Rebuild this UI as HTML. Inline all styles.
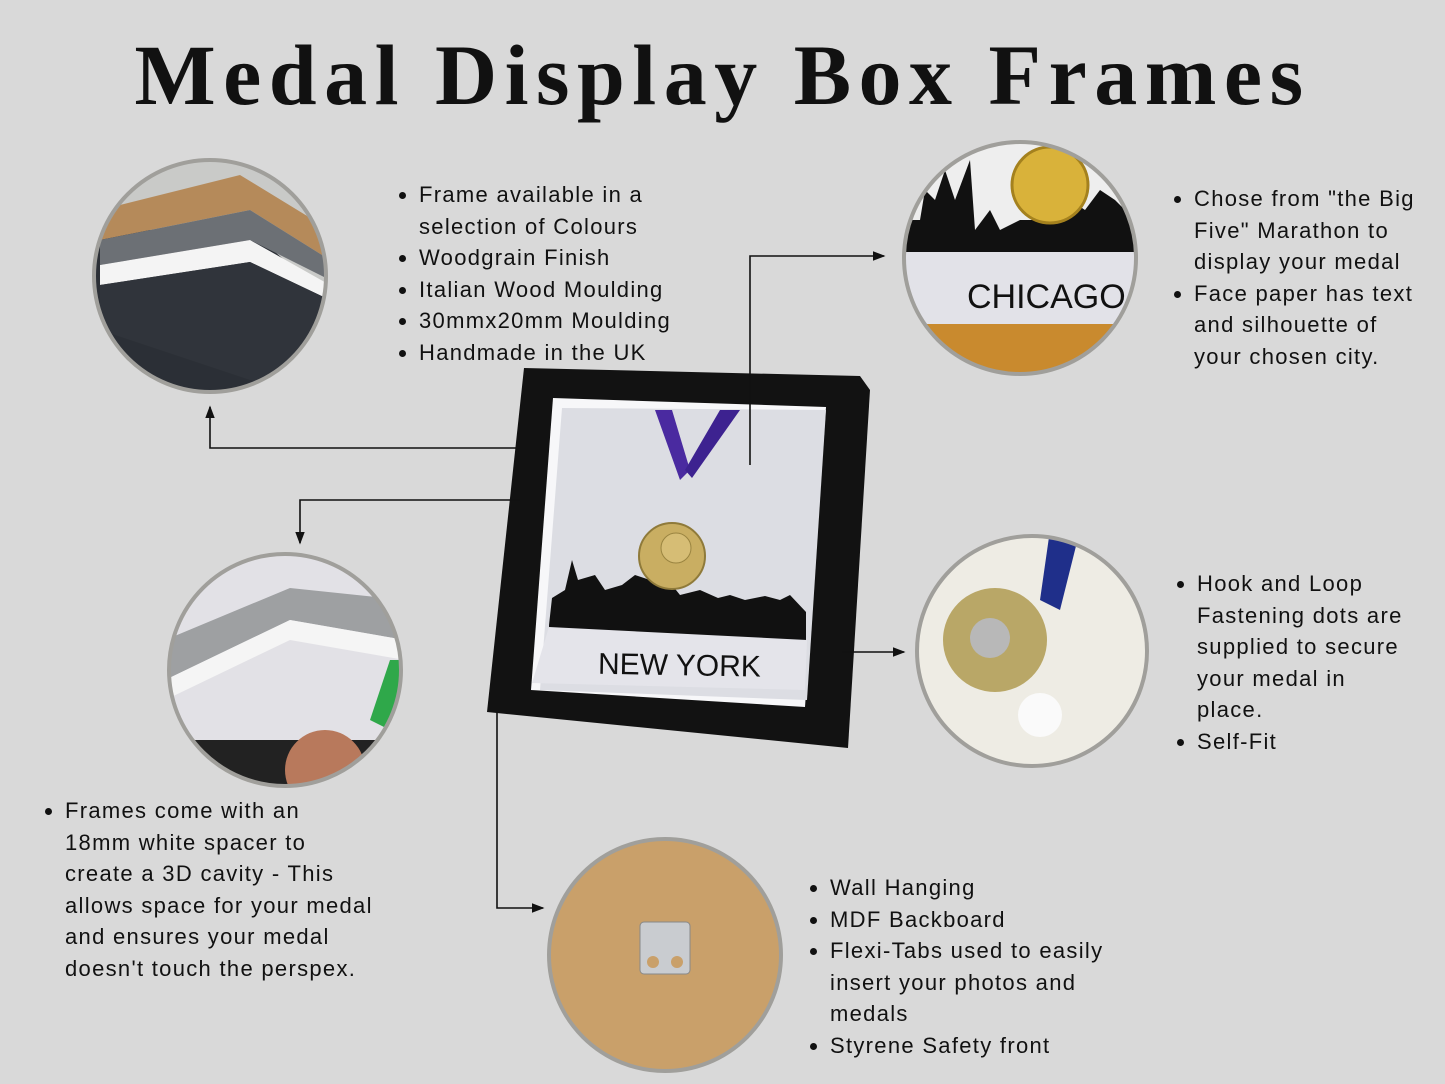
<!DOCTYPE html>
<html><head><meta charset="utf-8"><style>
body{margin:0;width:1445px;height:1084px;background:#d9d9d9;overflow:hidden;position:relative;font-family:"Liberation Sans",sans-serif;color:#111}
h1{position:absolute;top:25px;left:0;width:1445px;text-align:center;margin:0;font-family:"Liberation Serif",serif;font-weight:bold;font-size:86px;letter-spacing:7.5px;white-space:nowrap}
ul{position:absolute;margin:0;padding:0 0 0 19px;font-size:22px;line-height:31.6px;letter-spacing:1.3px;white-space:nowrap}
svg{position:absolute;left:0;top:0}
</style></head><body>
<h1>Medal Display Box Frames</h1>
<svg width="1445" height="1084">
<defs>
<clipPath id="c1"><circle cx="210" cy="276" r="115"/></clipPath>
<clipPath id="c2"><circle cx="1020" cy="258" r="115"/></clipPath>
<clipPath id="c3"><circle cx="1032" cy="651" r="114"/></clipPath>
<clipPath id="c4"><circle cx="285" cy="670" r="115"/></clipPath>
<marker id="a" markerWidth="8" markerHeight="8" refX="7" refY="4" orient="auto"><path d="M0,1 L8,4 L0,7z" fill="#111"/></marker>
</defs>
<g clip-path="url(#c1)"><rect x="90" y="160" width="240" height="240" fill="#c9cac8"/>
<polygon points="90,230 250,230 330,300 330,400 90,400" fill="#2b2f36"/>
<polygon points="100,210 240,175 330,230 330,260 250,210 100,240" fill="#b58a5a"/>
<polygon points="100,240 250,210 330,260 330,280 250,240 100,265" fill="#6c7075"/>
<polygon points="100,265 250,240 330,285 330,300 250,262 100,285" fill="#f4f4f4"/>
<polygon points="100,285 250,262 330,300 330,400 250,380 100,330" fill="#30343b"/></g>
<circle cx="210" cy="276" r="116" fill="none" stroke="#a09f9b" stroke-width="4"/>
<g clip-path="url(#c2)"><rect x="900" y="140" width="240" height="240" fill="#eeeeee"/>
<path d="M900,270 L900,220 L920,220 L925,190 L935,200 L945,170 L955,200 L970,160 L975,230 L990,210 L1000,230 L1020,220 L1050,220 L1070,200 L1085,210 L1100,190 L1115,200 L1130,215 L1140,220 L1140,270z" fill="#111"/>
<rect x="900" y="252" width="240" height="72" fill="#e2e2e8"/>
<rect x="900" y="324" width="240" height="60" fill="#c98a2e"/>
<circle cx="1050" cy="185" r="38" fill="#d9b23a" stroke="#a4811e" stroke-width="3"/>
<text x="967" y="308" font-size="34" font-family="Liberation Sans" fill="#111">CHICAGO</text></g>
<circle cx="1020" cy="258" r="116" fill="none" stroke="#a09f9b" stroke-width="4"/>
<g clip-path="url(#c3)"><rect x="910" y="530" width="240" height="240" fill="#eeece4"/>
<polygon points="1040,600 1050,530 1080,530 1060,610" fill="#1f2f8a"/>
<circle cx="995" cy="640" r="52" fill="#b9a767"/>
<circle cx="990" cy="638" r="20" fill="#b8b8b8"/>
<circle cx="1040" cy="715" r="22" fill="#fafafa"/></g>
<circle cx="1032" cy="651" r="115" fill="none" stroke="#a09f9b" stroke-width="4"/>
<g clip-path="url(#c4)"><rect x="165" y="550" width="240" height="240" fill="#e2e1e6"/>
<polygon points="165,640 290,588 405,600 405,640 290,620 165,680" fill="#9ea0a2"/>
<polygon points="165,680 290,620 405,640 405,660 290,640 165,700" fill="#f5f5f5"/>
<rect x="165" y="740" width="240" height="50" fill="#222"/>
<circle cx="325" cy="770" r="40" fill="#b8795c"/>
<polygon points="370,720 390,660 405,660 390,730" fill="#2fa84a"/></g>
<circle cx="285" cy="670" r="116" fill="none" stroke="#a09f9b" stroke-width="4"/>
<circle cx="665" cy="955" r="116" fill="#c9a06a" stroke="#a09f9b" stroke-width="4"/>
<rect x="640" y="922" width="50" height="52" rx="4" fill="#c9ccd0" stroke="#888"/>
<circle cx="653" cy="962" r="6" fill="#c9a06a"/><circle cx="677" cy="962" r="6" fill="#c9a06a"/>
<polygon points="524,368 860,376 870,390 848,748 487,712" fill="#121212"/>
<polygon points="553,398 826,407 805,707 531,690" fill="#f7f7f9"/>
<polygon points="562,408 826,410 807,700 540,690" fill="#dcdde3"/>
<path d="M549,625 L552,598 L565,590 L572,560 L578,580 L595,575 L605,590 L622,585 L635,575 L650,580 L660,570 L680,595 L700,590 L718,598 L730,595 L745,600 L765,596 L780,600 L790,595 L806,612 L806,640 L549,640z" fill="#111"/>
<polygon points="549,627 807,640 805,690 532,683" fill="#e4e4ea"/>
<polygon points="655,410 672,410 690,470 680,480" fill="#4a2aa0"/>
<polygon points="740,410 720,410 685,470 692,478" fill="#3d2290"/>
<circle cx="672" cy="556" r="33" fill="#c9ae62" stroke="#8f7a3a" stroke-width="2"/>
<circle cx="676" cy="548" r="15" fill="#d6bd75" stroke="#9a8440"/>
<text x="598" y="675" font-size="30" fill="#111" font-family="Liberation Sans" transform="rotate(1 670 665)">NEW YORK</text>
<g stroke="#111" stroke-width="1.6" fill="none">
<polyline points="516,448 210,448 210,407" marker-end="url(#a)"/>
<polyline points="750,465 750,256 884,256" marker-end="url(#a)"/>
<polyline points="520,500 300,500 300,543" marker-end="url(#a)"/>
<polyline points="842,652 904,652" marker-end="url(#a)"/>
<polyline points="497,712 497,908 543,908" marker-end="url(#a)"/>
</g>
</svg>
<ul style="left:400px;top:179px"><li>Frame available in a<br>selection of Colours</li><li>Woodgrain Finish</li><li>Italian Wood Moulding</li><li>30mmx20mm Moulding</li><li>Handmade in the UK</li></ul>
<ul style="left:1175px;top:183px"><li>Chose from "the Big<br>Five" Marathon to<br>display your medal</li><li>Face paper has text<br>and silhouette of<br>your chosen city.</li></ul>
<ul style="left:1178px;top:568px"><li>Hook and Loop<br>Fastening dots are<br>supplied to secure<br>your medal in<br>place.</li><li>Self-Fit</li></ul>
<ul style="left:46px;top:795px"><li>Frames come with an<br>18mm white spacer to<br>create a 3D cavity - This<br>allows space for your medal<br>and ensures your medal<br>doesn't touch the perspex.</li></ul>
<ul style="left:811px;top:872px"><li>Wall Hanging</li><li>MDF Backboard</li><li>Flexi-Tabs used to easily<br>insert your photos and<br>medals</li><li>Styrene Safety front</li></ul>
</body></html>
